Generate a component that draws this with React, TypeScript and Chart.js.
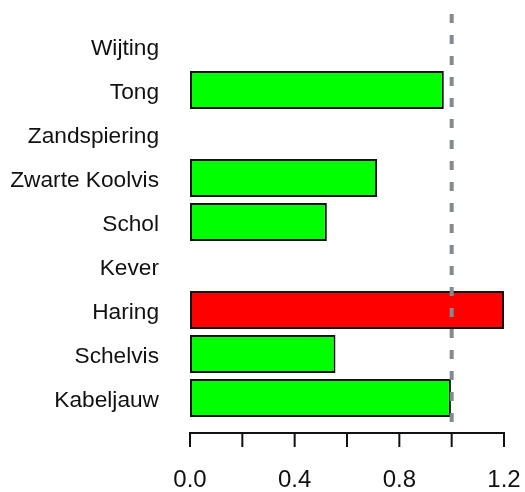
import React, { useEffect, useRef } from "react";
import { Chart, registerables } from "chart.js";

Chart.register(...registerables);

const categories = [
  "Wijting",
  "Tong",
  "Zandspiering",
  "Zwarte Koolvis",
  "Schol",
  "Kever",
  "Haring",
  "Schelvis",
  "Kabeljauw",
];
const values: (number | null)[] = [null, 0.97, null, 0.715, 0.523, null, 1.2, 0.556, 0.997];
const barColors = ["#00ff00", "#00ff00", "#00ff00", "#00ff00", "#00ff00", "#00ff00", "#ff0000", "#00ff00", "#00ff00"];
const xMin = 0;
const xMax = 1.2;
const labeledTicks = [0, 0.4, 0.8, 1.2];
const allTicks = [0, 0.2, 0.4, 0.6, 0.8, 1.0, 1.2];
const referenceValue = 1.0;

const FONT = "'Liberation Sans', Arial, sans-serif";

const customAxisPlugin = {
  id: "customAxis",
  afterDatasetsDraw(chart: any) {
    const { ctx, chartArea, scales } = chart;
    const x = scales.x;
    const axisY = chartArea.bottom + 13;
    ctx.save();
    // reference dashed line
    const rx = x.getPixelForValue(referenceValue);
    ctx.strokeStyle = "#858a8e";
    ctx.lineWidth = 4;
    ctx.setLineDash([9, 12]);
    ctx.beginPath();
    ctx.moveTo(rx, chartArea.top - 10);
    ctx.lineTo(rx, axisY);
    ctx.stroke();
    ctx.setLineDash([]);
    // axis line
    ctx.strokeStyle = "#111111";
    ctx.lineWidth = 2;
    ctx.beginPath();
    ctx.moveTo(x.getPixelForValue(xMin), axisY);
    ctx.lineTo(x.getPixelForValue(xMax), axisY);
    ctx.stroke();
    for (const t of allTicks) {
      const px = x.getPixelForValue(t);
      ctx.beginPath();
      ctx.moveTo(px, axisY - 1);
      ctx.lineTo(px, axisY + 14);
      ctx.stroke();
    }
    ctx.restore();
  },
};

export default function App() {
  const ref = useRef<HTMLCanvasElement | null>(null);
  useEffect(() => {
    document.body.style.margin = "0";
    const canvas = ref.current!;
    const chart = new Chart(canvas, {
      type: "bar",
      data: {
        labels: categories,
        datasets: [
          {
            data: values,
            backgroundColor: barColors,
            borderColor: "#111111",
            borderWidth: 2,
            borderSkipped: false,
            barPercentage: 0.86,
            categoryPercentage: 1,
          },
        ],
      },
      options: {
        indexAxis: "y",
        animation: false,
        responsive: false,
        layout: { padding: { top: 24, right: 21, left: 0, bottom: 0 } },
        plugins: { legend: { display: false }, tooltip: { enabled: false } },
        scales: {
          x: {
            type: "linear",
            min: xMin,
            max: xMax,
            afterBuildTicks: (scale: any) => {
              scale.ticks = labeledTicks.map((v) => ({ value: v }));
            },
            grid: { display: false, drawTicks: true, tickLength: 49 },
            border: { display: false },
            ticks: {
              padding: 2,
              color: "#111111",
              font: { family: FONT, size: 24, lineHeight: 0.79 },
              callback: (v: any) => Number(v).toFixed(1),
              maxRotation: 0,
              autoSkip: false,
            },
          },
          y: {
            type: "category",
            afterFit: (scale: any) => {
              scale.width = 190;
            },
            grid: { display: false, drawTicks: true, tickLength: 31 },
            border: { display: false },
            ticks: {
              padding: 0,
              labelOffset: 3,
              color: "#111111",
              font: { family: FONT, size: 22.7 },
              autoSkip: false,
            },
          },
        },
      },
      plugins: [customAxisPlugin],
    });
    return () => chart.destroy();
  }, []);
  return (
    <div style={{ position: "absolute", left: 0, top: 0, width: 525, height: 492, background: "#fff" }}>
      <canvas ref={ref} width={525} height={492} />
    </div>
  );
}
